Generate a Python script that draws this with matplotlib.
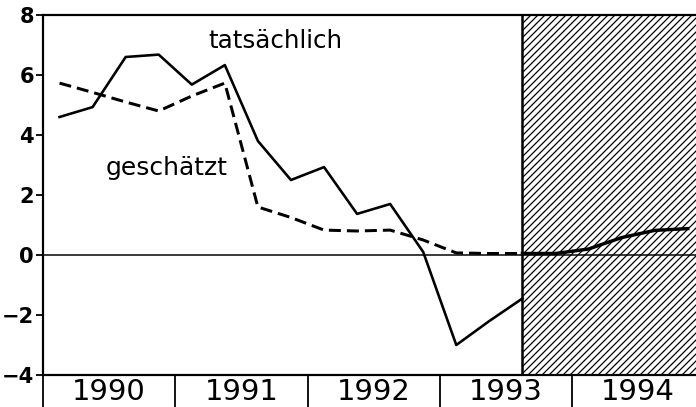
import matplotlib.pyplot as plt
import numpy as np

DPI = 84
W, H = 696, 407

def pt(px):
    # pixel size -> points at this dpi
    return px * 72.0 / DPI

# quarterly values, 1990 Q1 .. 1993 Q3
tatsaechlich = [4.6, 4.93, 6.6, 6.68, 5.68, 6.33, 3.8, 2.5, 2.93, 1.37, 1.7, 0.1, -3.0, -2.2, -1.45]
geschaetzt = [5.73, 5.42, 5.1, 4.8, 5.3, 5.73, 1.6, 1.25, 0.83, 0.8, 0.83, 0.5, 0.07, 0.05, 0.05]
# forecast, 1993 Q3 .. 1994 Q4
prognose = [0.05, 0.05, 0.2, 0.58, 0.82, 0.88]

years = [1990, 1991, 1992, 1993, 1994]
year_labels = ['1990', '1991', '1992', '1993', '1994']
yticks = [-4, -2, 0, 2, 4, 6, 8]

def qpos(start_year, start_q, n):
    return np.array([start_year + (start_q + i - 0.5) / 4.0 for i in range(n)])

x_ist = qpos(1990, 1, len(tatsaechlich))
x_sch = qpos(1990, 1, len(geschaetzt))
x_prog = qpos(1993, 3, len(prognose))

fig = plt.figure(figsize=(W / DPI, H / DPI), dpi=DPI)
ax = fig.add_axes([43 / W, (H - 375) / H, (W - 43) / W, 360 / H])
ax.set_xlim(1990, 1990 + 653 / 132.25)
ax.set_ylim(-4, 8)

plt.rcParams['hatch.linewidth'] = pt(1.25)
ax.axvspan(x_prog[0], 1996, facecolor='white', edgecolor='black', hatch='////', linewidth=0, zorder=1)
ax.axvline(x_prog[0], color='black', linewidth=pt(2.5), zorder=2)
ax.axhline(0, color='black', linewidth=pt(1.5), zorder=2)

ax.plot(x_ist, tatsaechlich, color='black', linewidth=pt(2.6), zorder=3)
ax.plot(x_sch, geschaetzt, color='black', linewidth=pt(3), dashes=(4, 2), zorder=3)
ax.plot(x_prog, prognose, color='black', linewidth=pt(3.4), zorder=3)

ax.text(1990 + (208 - 43) / 132.25, 6.9, 'tatsächlich', fontsize=pt(24.5), ha='left', va='baseline')
ax.text(1990 + (106 - 43) / 132.25, 2.67, 'geschätzt', fontsize=pt(25), ha='left', va='baseline')

for s in ['left', 'top', 'bottom']:
    ax.spines[s].set_linewidth(pt(2.2))
ax.spines['right'].set_visible(False)

ax.set_yticks(yticks)
ax.set_yticklabels(['\u2212' + str(-v) if v < 0 else str(v) for v in yticks],
                   fontsize=pt(21), fontweight='bold')
ax.tick_params(axis='y', direction='out', length=pt(7), width=pt(1.8), pad=pt(2))

ax.set_xticks(years)
ax.set_xticklabels([])
ax.tick_params(axis='x', which='major', direction='out', length=pt(33), width=pt(1.8))
ax.set_xticks([y + 0.5 for y in years], minor=True)
ax.set_xticklabels(year_labels, minor=True, fontsize=pt(29))
ax.tick_params(axis='x', which='minor', length=0, pad=pt(3))

fig.savefig('out.png', dpi=DPI)
